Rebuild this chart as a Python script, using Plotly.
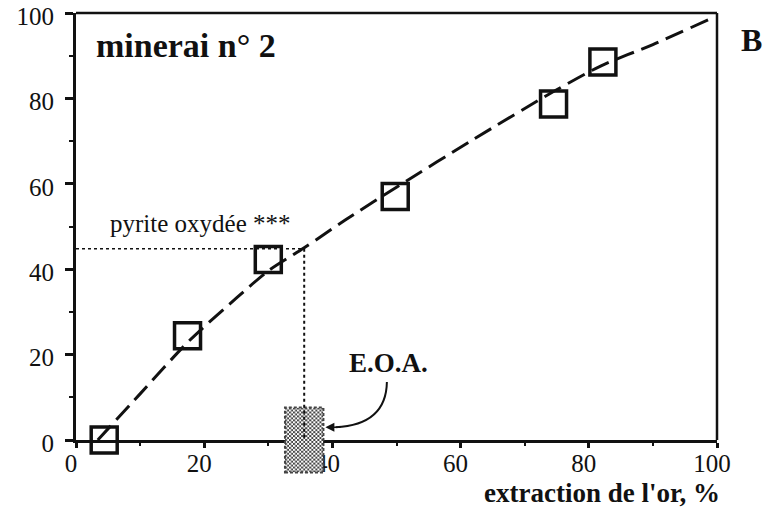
import base64
import plotly.graph_objects as go

# Measured points: gold extraction (%) vs. oxidised pyrite (%)
extraction_or = [4.4, 17.4, 30.0, 49.8, 74.5, 82.2]
pyrite_oxydee = [0.0, 24.4, 42.3, 57.0, 78.7, 88.5]

# Hand-drawn trend curve through the measurements
courbe_x = [3.4, 10, 17.5, 25, 30, 35.6, 42, 50, 62, 74.5, 82, 90, 98.6]
courbe_y = [0.0, 10.8, 23.0, 33.2, 39.6, 45.0, 51.5, 59.2, 70.4, 81.6, 87.7, 92.6, 98.4]

# Reading of the curve for the oxidised pyrite level -> E.O.A.
niveau_pyrite = 44.8
eoa_x = 35.6
eoa_demi_largeur = 3.0
eoa_demi_hauteur = 7.6

tick_vals = [0, 20, 40, 60, 80, 100]
tick_text = ["0", "20", "40", "60", "80", "100"]

FONT = "Liberation Serif"
INK = "#111111"

fig = go.Figure()

fig.add_trace(go.Scatter(
    x=courbe_x, y=courbe_y, mode="lines",
    line=dict(color=INK, width=3, dash="19px,8px", shape="spline", smoothing=0.8),
    hoverinfo="skip", showlegend=False,
))

fig.add_trace(go.Scatter(
    x=extraction_or, y=pyrite_oxydee, mode="markers",
    marker=dict(symbol="square-open", size=26, color=INK, line=dict(width=3.5)),
    cliponaxis=False, showlegend=False,
))

# Cross-hatched E.O.A. box straddling the x axis
motif = (
    "<svg xmlns='http://www.w3.org/2000/svg' width='38' height='66'>"
    "<defs><pattern id='h' width='4' height='4' patternUnits='userSpaceOnUse'>"
    "<rect width='4' height='4' fill='#ffffff'/>"
    "<rect x='0' y='0' width='2' height='2' fill='#454545'/>"
    "<rect x='2' y='2' width='2' height='2' fill='#454545'/>"
    "</pattern></defs>"
    "<rect width='38' height='66' fill='url(#h)'/></svg>"
)
src = "data:image/svg+xml;base64," + base64.b64encode(motif.encode()).decode()
y_bas = -eoa_demi_hauteur / 100
y_haut = eoa_demi_hauteur / 100
fig.add_layout_image(dict(
    source=src, xref="x", yref="paper",
    x=eoa_x - eoa_demi_largeur, y=y_haut,
    sizex=2 * eoa_demi_largeur, sizey=y_haut - y_bas,
    sizing="stretch", xanchor="left", yanchor="top", layer="above",
))
fig.add_shape(type="rect", xref="x", yref="paper",
              x0=eoa_x - eoa_demi_largeur, x1=eoa_x + eoa_demi_largeur,
              y0=y_bas, y1=y_haut,
              line=dict(color="#444444", width=2, dash="3px,2px"))

# Dotted reading lines
fig.add_shape(type="line", x0=0, x1=eoa_x, y0=niveau_pyrite, y1=niveau_pyrite,
              line=dict(color=INK, width=1.5, dash="dot"))
fig.add_shape(type="line", x0=eoa_x, x1=eoa_x, y0=niveau_pyrite, y1=0,
              line=dict(color=INK, width=2, dash="dot"))

# Top and right frame lines
fig.add_shape(type="line", xref="paper", yref="paper", x0=0, x1=1, y0=1, y1=1,
              line=dict(color=INK, width=2.5), layer="above")
fig.add_shape(type="line", xref="paper", yref="paper", x0=1, x1=1, y0=0, y1=1,
              line=dict(color=INK, width=2.5), layer="above")

# Curved pointer from the E.O.A. label to the box
fig.add_shape(type="path", path="M 48.5,13.6 Q 48.4,3.6 40.5,3.0",
              line=dict(color=INK, width=2))
fig.add_annotation(x=eoa_x + eoa_demi_largeur + 0.3, y=3.0, ax=41.5, ay=3.0,
                   axref="x", ayref="y", showarrow=True, arrowhead=2,
                   arrowsize=1.2, arrowwidth=1.5, arrowcolor=INK, text="")

fig.add_annotation(x=2.8, y=92.5, text="<b>minerai n° 2</b>", showarrow=False,
                   xanchor="left", yanchor="middle",
                   font=dict(family=FONT, size=34, color=INK))
fig.add_annotation(x=1.034, y=0.937, xref="paper", yref="paper", text="<b>B</b>",
                   showarrow=False, xanchor="left", yanchor="middle",
                   font=dict(family=FONT, size=32, color=INK))
fig.add_annotation(x=5.0, y=50.6, text="pyrite oxydée ***", showarrow=False,
                   xanchor="left", yanchor="middle",
                   font=dict(family=FONT, size=25, color=INK))
fig.add_annotation(x=48.7, y=18.0, text="<b>E.O.A.</b>", showarrow=False,
                   xanchor="center", yanchor="middle",
                   font=dict(family=FONT, size=27, color=INK))
fig.add_annotation(x=1.008, y=-0.124, xref="paper", yref="paper",
                   text="<b>extraction de l'or, %</b>", showarrow=False,
                   xanchor="right", yanchor="middle",
                   font=dict(family=FONT, size=27, color=INK))

axis_common = dict(
    range=[0, 100], tickvals=tick_vals, ticktext=tick_text,
    showgrid=False, zeroline=False, showline=True, linecolor=INK, linewidth=3,
    tickwidth=2.5, tickcolor=INK, ticks="outside",
    tickfont=dict(family=FONT, size=25, color=INK),
    automargin=False, ticklabeloverflow="allow",
    fixedrange=True,
)

fig.update_layout(
    width=775, height=509,
    margin=dict(l=76, r=58, t=13, b=69, autoexpand=False),
    paper_bgcolor="white", plot_bgcolor="white",
    xaxis=dict(**axis_common, ticklen=5, ticklabelstandoff=-6, ticklabelshift=-5,
               minor=dict(ticks="outside", dtick=10, tick0=0, ticklen=3,
                          tickwidth=2, tickcolor=INK)),
    yaxis=dict(**axis_common, ticklen=8, ticklabelstandoff=6, ticklabelshift=3,
               minor=dict(ticks="outside", dtick=10, tick0=0, ticklen=4,
                          tickwidth=2, tickcolor=INK)),
    showlegend=False,
)

fig.write_html("out.html")
